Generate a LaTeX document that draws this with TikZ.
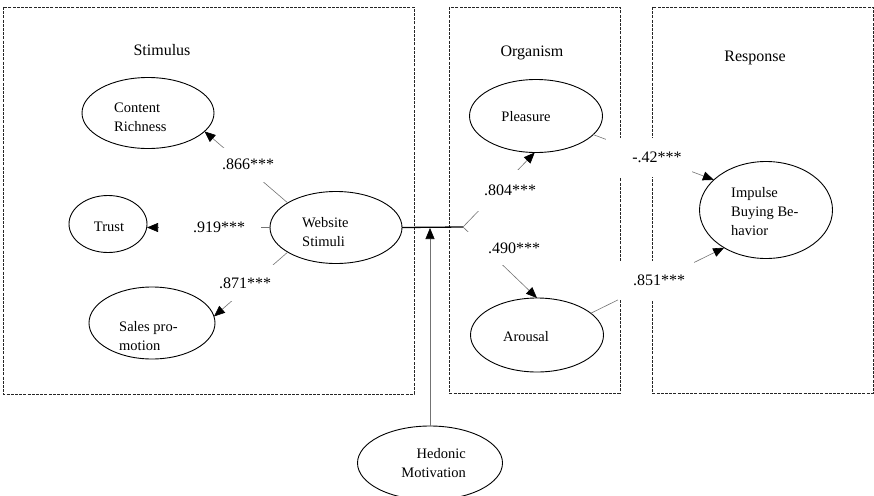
\documentclass[tikz,border=0pt]{standalone}
\usepackage{fontspec}
\setmainfont{Liberation Serif}
\usetikzlibrary{arrows.meta,shapes.geometric}
\begin{document}
\begin{tikzpicture}[x=1pt,y=-1pt,
  frame/.style={draw=black!85, line width=0.8pt, dash pattern=on 3pt off 1.2pt},
  oval/.style={draw=black, line width=0.9pt, ellipse, inner sep=0pt, outer sep=0pt},
  etext/.style={font=\fontsize{14.5}{19}\selectfont, inner sep=0pt, align=left},
  title/.style={font=\fontsize{16}{19}\selectfont, inner sep=0pt},
  coef/.style={fill=white, font=\fontsize{16}{19}\selectfont, inner sep=0pt},
  conn/.style={draw=black!55, line width=0.6pt, -{Triangle[length=11pt,width=9pt,color=black]}},
  thick link/.style={draw=black, line width=1.3pt},
]
\useasboundingbox (0,0) rectangle (874,495);

% frames
\draw[frame] (3,7) rectangle (414,394);
\draw[frame] (449,7) rectangle (620,393);
\draw[frame] (652,7) rectangle (873,393);

% titles
\node[title] (tS) at (162,50) {Stimulus};
\node[title] (tO) at (532,53) {Organism};
\node[title] (tR) at (755,58) {Response};

% ellipses
\node[oval, minimum width=132pt, minimum height=71pt] (cr) at (148,113) {};
\node[oval, minimum width=78pt, minimum height=57pt] (tr) at (108,224) {};
\node[oval, minimum width=132pt, minimum height=72pt] (ws) at (336,227.5) {};
\node[oval, minimum width=126pt, minimum height=72pt] (sp) at (152,323) {};
\node[oval, minimum width=133pt, minimum height=73pt] (pl) at (536,116) {};
\node[oval, minimum width=133pt, minimum height=74pt] (ar) at (537,335) {};
\node[oval, minimum width=133pt, minimum height=97pt] (ib) at (766,210) {};
\node[oval, minimum width=145pt, minimum height=74pt] (hm) at (430,463) {};

% ellipse texts
\node[etext, anchor=west] (crt) at (114,117.5) {Content\\Richness};
\node[etext] (trt) at (109,227) {Trust};
\node[etext, anchor=west] (wst) at (302,232) {Website\\Stimuli};
\node[etext, anchor=west] (spt) at (119,336) {Sales pro-\\motion};
\node[etext] (plt) at (526,117) {Pleasure};
\node[etext] (art) at (526,337) {Arousal};
\node[etext, anchor=west] (ibt) at (731,212) {Impulse\\Buying Be-\\havior};
\node[etext, align=right, anchor=east] (hmt) at (466,463) {Hedonic\\Motivation};

% connectors
\coordinate (fork) at (463,227);
\draw[conn] (ws.153) -- (cr.-18);
\draw[conn] (ws.west) -- (tr.east |- ws.west);
\draw[conn] (ws.-153) -- (sp.6);
\draw[thick link] (ws.east) -- (fork);
\draw[conn] (fork) -- (pl.-92);
\draw[conn] (fork) -- (ar.north);
\draw[conn] (pl.-18) -- (ib.150);
\draw[conn] (ar.22) -- (ib.-138);
\draw[conn, shorten >=1pt] (hm.north) -- (hm.north |- fork);

% coefficient labels
\node[coef, minimum width=64pt, minimum height=34pt] (l1) at (248,164.5) {.866***};
\node[coef, minimum width=102pt, minimum height=30pt] (l2) at (210,227) {\hspace{18pt}.919***};
\node[coef, minimum width=66pt, minimum height=36pt] (l3) at (245,283) {.871***};
\node[coef, minimum width=70pt, minimum height=41pt] (l4) at (510,190.5) {.804***};
\node[coef, minimum width=84pt, minimum height=33pt] (l5) at (508,248.5) {\hspace{12pt}.490***};
\node[coef, minimum width=86pt, minimum height=39pt] (l6) at (649,157.5) {\hspace{16pt}-.42***};
\node[coef, minimum width=76pt, minimum height=39pt] (l7) at (656,280.5) {\hspace{6pt}.851***};
\end{tikzpicture}
\end{document}
